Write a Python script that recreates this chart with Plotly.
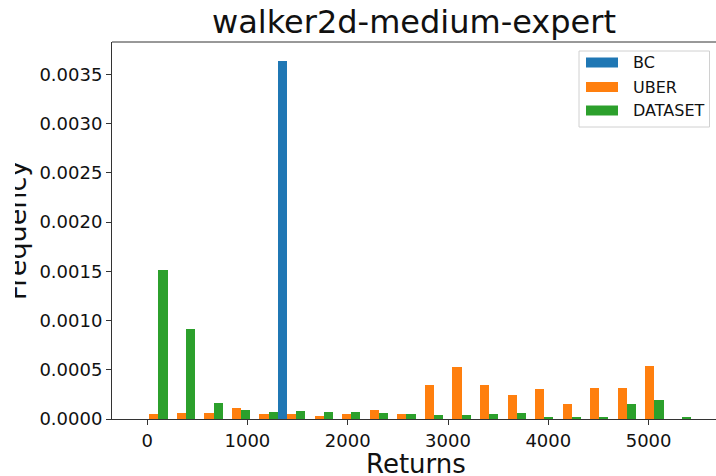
import plotly.graph_objects as go

bin_centers = [67, 342, 617, 891, 1166, 1441, 1716, 1990, 2265, 2540,
               2815, 3089, 3364, 3639, 3913, 4188, 4463, 4738, 5012, 5287]
bc = [0, 0, 0, 0, 0, 0.003635, 0, 0, 0, 0,
      0, 0, 0, 0, 0, 0, 0, 0, 0, 0]
uber = [0.000054, 0.00006, 0.00006, 0.000115, 0.00005, 0.00005, 0.000034, 0.00005, 0.00009, 0.00005,
        0.000342, 0.000525, 0.000348, 0.00024, 0.0003, 0.000152, 0.000312, 0.000312, 0.00054, 0]
dataset = [0.00151, 0.00091, 0.00016, 0.00009, 0.00007, 0.00008, 0.00007, 0.00007, 0.000065, 0.00005,
           0.00004, 0.00004, 0.000055, 0.00006, 0.000015, 0.000013, 0.00002, 0.000152, 0.000196, 0.00002]
series_names = ["BC", "UBER", "DATASET"]
colors = ["#1f77b4", "#ff7f0e", "#2ca02c"]
x_ticks = [0, 1000, 2000, 3000, 4000, 5000]
y_ticks = [0, 0.0005, 0.001, 0.0015, 0.002, 0.0025, 0.003, 0.0035]

W, H = 716, 476
L, T, B = 112, 42, 419
font = "DejaVu Sans"

fig = go.Figure()
for name, vals, c in zip(series_names, [bc, uber, dataset], colors):
    fig.add_trace(go.Bar(x=bin_centers, y=vals, name=name, marker_color=c,
                         marker_line_width=0, showlegend=False))

# clipped y-axis label (the reference shows it cut at its top edge)
fig.add_trace(go.Bar(x=[0], y=[1], width=[1], xaxis="x2", yaxis="y2",
                     text=["Frequency"], textposition="inside", textangle=-90,
                     insidetextanchor="middle", constraintext="none", cliponaxis=True,
                     insidetextfont=dict(size=27, family=font, color="#111"),
                     marker_color="rgba(0,0,0,0)", marker_line_width=0,
                     hoverinfo="skip", showlegend=False))

def px(xpix):
    return xpix / W

fig.update_layout(
    width=W, height=H,
    margin=dict(l=0, r=0, t=T, b=H - B),
    paper_bgcolor="white", plot_bgcolor="rgba(0,0,0,0)",
    barmode="group", bargap=0, bargroupgap=0,
    font=dict(family=font, color="#111", size=18),
    xaxis=dict(domain=[L / W, 1], range=[-350, 5672], tickvals=x_ticks,
               ticktext=[str(v) for v in x_ticks],
               showgrid=False, zeroline=False, showline=True, linecolor="#333", linewidth=1,
               ticks="outside", ticklen=5, tickcolor="#333",
               tickfont=dict(size=18)),
    yaxis=dict(range=[0, 0.003828], tickvals=y_ticks, tickformat=".4f",
               showgrid=False, zeroline=False, showline=True, linecolor="#333", linewidth=1,
               ticks="outside", ticklen=5, tickcolor="#333", tickfont=dict(size=18)),
    xaxis2=dict(domain=[15 / W, 55 / W], range=[-0.07, 3.93], visible=False, fixedrange=True),
    yaxis2=dict(domain=[0, 1], range=[0, 1], visible=False, anchor="x2", fixedrange=True),
)

ph = B - T
def py(ypix):
    return (B - ypix) / ph

ann = []
ann.append(dict(text="walker2d-medium-expert", xref="paper", yref="paper",
                x=px(414), y=py(22), xanchor="center", yanchor="middle",
                showarrow=False, font=dict(size=32, family=font, color="#111")))
ann.append(dict(text="Returns", xref="paper", yref="paper",
                x=px(416), y=py(464), xanchor="center", yanchor="middle",
                showarrow=False, font=dict(size=26, family=font, color="#111")))

shapes = []
# top spine
shapes.append(dict(type="line", xref="paper", yref="paper", x0=L / W, x1=1, y0=1, y1=1,
                   line=dict(color="#333", width=1)))
# legend frame
shapes.append(dict(type="rect", xref="paper", yref="paper",
                   x0=px(579), x1=px(709.5), y0=py(127), y1=py(51),
                   line=dict(color="#d0d0d0", width=1), fillcolor="rgba(255,255,255,0.8)"))
rows = [62.5, 87, 110.5]
for name, c, ry in zip(series_names, colors, rows):
    shapes.append(dict(type="rect", xref="paper", yref="paper",
                       x0=px(586), x1=px(618), y0=py(ry + 5), y1=py(ry - 5),
                       line=dict(width=0), fillcolor=c))
    ann.append(dict(text=name, xref="paper", yref="paper", x=px(631), y=py(ry),
                    xanchor="left", yanchor="middle", showarrow=False,
                    font=dict(size=16, family=font, color="#111")))

fig.update_layout(annotations=ann, shapes=shapes)
fig.write_html("out.html")
